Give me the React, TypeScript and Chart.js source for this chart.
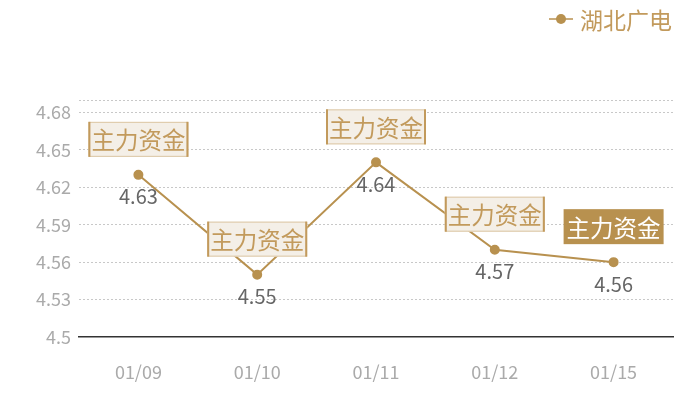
import { useEffect, useRef } from 'react';
import { Chart, registerables } from 'chart.js';

Chart.register(...registerables);

const dates = ['01/09', '01/10', '01/11', '01/12', '01/15'];
const prices = [4.63, 4.55, 4.64, 4.57, 4.56];
const tags = ['主力资金', '主力资金', '主力资金', '主力资金', '主力资金'];
const tagActive = [false, false, false, false, true];
const yTicks = [4.5, 4.53, 4.56, 4.59, 4.62, 4.65, 4.68];

const GOLD = '#b8914f';
const FONT = '"Noto Sans CJK SC", "Noto Sans", sans-serif';

const tagPlugin = {
  id: 'tags',
  afterDatasetsDraw(chart: Chart) {
    const { ctx } = chart;
    const meta = chart.getDatasetMeta(0);
    ctx.save();
    meta.data.forEach((pt: any, i: number) => {
      const x = pt.x;
      const y = pt.y;
      // value under the point
      ctx.font = `20px ${FONT}`;
      ctx.fillStyle = '#666';
      ctx.textAlign = 'center';
      ctx.textBaseline = 'middle';
      ctx.fillText(String(prices[i]), x, y + 22);

      // tag box above the point
      const w = 100;
      const h = 35;
      const left = x - w / 2;
      const top = y - 18 - h;
      if (tagActive[i]) {
        ctx.fillStyle = GOLD;
        ctx.fillRect(left, top, w, h);
        ctx.fillStyle = '#fff';
      } else {
        ctx.fillStyle = '#f4efe7';
        ctx.fillRect(left, top, w, h);
        ctx.strokeStyle = '#dcc7a4';
        ctx.lineWidth = 1;
        ctx.strokeRect(left + 0.5, top + 0.5, w - 1, h - 1);
        ctx.fillStyle = '#c29a5c';
        ctx.fillRect(left, top, 2, h);
        ctx.fillRect(left + w - 2, top, 2, h);
      }
      ctx.font = `23.5px ${FONT}`;
      ctx.fillText(tags[i], x, top + h / 2 + 1);
    });

    // legend, top right
    ctx.strokeStyle = GOLD;
    ctx.lineWidth = 1.5;
    ctx.beginPath();
    ctx.moveTo(549, 19);
    ctx.lineTo(573, 19);
    ctx.stroke();
    ctx.fillStyle = GOLD;
    ctx.beginPath();
    ctx.arc(561, 19, 5, 0, Math.PI * 2);
    ctx.fill();
    ctx.font = `23px ${FONT}`;
    ctx.fillStyle = '#c29a5c';
    ctx.textAlign = 'left';
    ctx.fillText('湖北广电', 580, 20);
    ctx.restore();
  },
};

export default function App() {
  const canvasRef = useRef<HTMLCanvasElement>(null);
  const chartRef = useRef<Chart | null>(null);

  useEffect(() => {
    if (!canvasRef.current) return;
    if (chartRef.current) chartRef.current.destroy();

    chartRef.current = new Chart(canvasRef.current, {
      type: 'line',
      data: {
        labels: dates,
        datasets: [
          {
            label: '湖北广电',
            data: prices,
            borderColor: GOLD,
            backgroundColor: GOLD,
            borderWidth: 2,
            pointRadius: 4,
            pointHoverRadius: 4,
            tension: 0,
          },
        ],
      },
      plugins: [tagPlugin],
      options: {
        responsive: false,
        animation: false,
        layout: { padding: { top: 100, right: 27, bottom: 0 } },
        plugins: {
          legend: { display: false },
          tooltip: { enabled: false },
        },
        scales: {
          x: {
            offset: true,
            afterFit: (s: any) => { s.height = 63; },
            grid: { display: false },
            border: { display: true, color: '#333', width: 1.5 },
            ticks: { color: '#aaa', font: { size: 18, family: FONT }, padding: 16 },
          },
          y: {
            min: 4.5,
            max: 4.69,
            afterFit: (s: any) => { s.width = 79; },
            afterBuildTicks: (s: any) => {
              s.ticks = [...yTicks, 4.69].map((v) => ({ value: v }));
            },
            border: { display: false, dash: [2, 2] },
            grid: {
              color: (c: any) => (c.index === 0 ? 'rgba(0,0,0,0)' : '#c8c8c8'),
              tickLength: 0,
            },
            ticks: {
              color: '#aaa',
              font: { size: 18, family: FONT },
              padding: 8,
              callback: (v: any) => (yTicks.includes(Number(v)) ? String(Number(Number(v).toFixed(2))) : ''),
            },
          },
        },
      },
    });

    return () => chartRef.current?.destroy();
  }, []);

  return (
    <div style={{ position: 'fixed', left: 0, top: 0, width: 700, height: 400, background: '#fff' }}>
      <canvas ref={canvasRef} width={700} height={400} />
    </div>
  );
}
